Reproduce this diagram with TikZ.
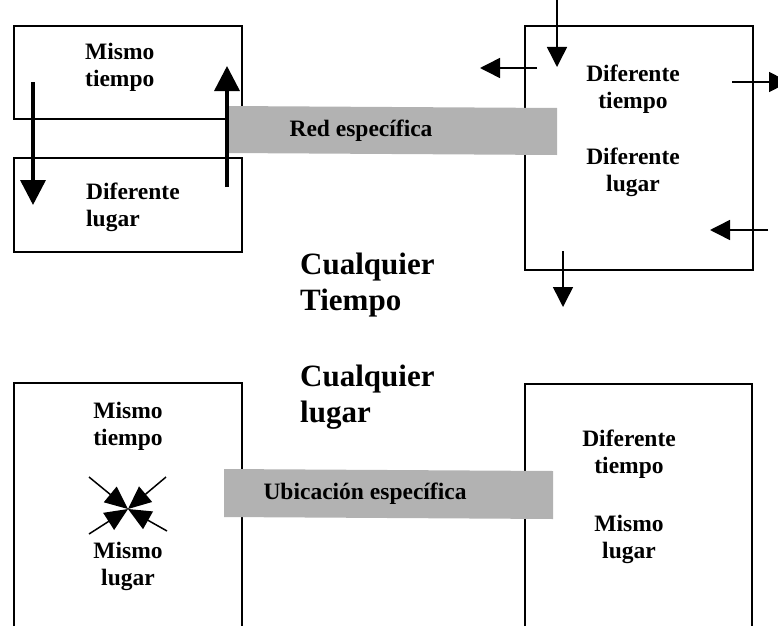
\documentclass[tikz,border=0pt]{standalone}
\usepackage{fontspec}
\setmainfont{Liberation Serif}
\usepackage[HTML]{xcolor}
\usepackage{tikz}
\usetikzlibrary{arrows.meta}
\definecolor{bargray}{HTML}{B2B2B2}

\begin{document}
\begin{tikzpicture}[x=1pt,y=-1pt,
  txt/.style={font=\fontsize{23.5}{27}\selectfont\bfseries, inner sep=0, align=center},
  bigtxt/.style={font=\fontsize{31}{36}\selectfont\bfseries, inner sep=0, align=left},
  box/.style={draw, line width=1.3pt},
  bar/.style={fill=bargray, draw=none},
  slimarrow/.style={line width=1.5pt, -{Triangle[length=20pt,width=20pt]}},
  fatarrow/.style={line width=3.5pt, -{Triangle[length=25pt,width=25pt]}},
  crossarrow/.style={line width=1.5pt, -{Triangle[length=23pt,width=20pt]}}]
\useasboundingbox (0,0) rectangle (778,626);

% Same time, different place (upper left)
\begin{scope}
\draw[box] (14,26) rectangle (242,119);
\draw[box] (14,158) rectangle (242,252);
\node[txt, anchor=north west, align=left] (mt1) at (85,43) {Mismo\\tiempo};
\node[txt, anchor=north west, align=left] (dl1) at (86,183) {Diferente\\lugar};
\end{scope}

% Different time, different place (upper right)
\begin{scope}
\draw[box] (525,26) rectangle (753,270);
\node[txt, anchor=north] (dt1) at (633,65) {Diferente\\tiempo};
\node[txt, anchor=north] (dl2) at (633,148) {Diferente\\lugar};
\end{scope}

% Network bar
\fill[bar] (227,106) -- (557,108) -- (557,155) -- (227,153) -- cycle;
\node[txt] (red) at (361,131) {Red específica};

% Centre labels
\node[bigtxt, anchor=north west] (ct) at (300,253) {Cualquier\\Tiempo};
\node[bigtxt, anchor=north west] (cl) at (300,365) {Cualquier\\lugar};

% Same time, same place (lower left)
\begin{scope}
\draw[box] (14,626) -- (14,383) -- (242,383) -- (242,626);
\node[txt, anchor=north] (mt2) at (128,402) {Mismo\\tiempo};
\node[txt, anchor=north] (ml1) at (128,542) {Mismo\\lugar};
\end{scope}

% Different time, same place (lower right)
\begin{scope}
\draw[box] (525,626) -- (525,384) -- (752,384) -- (752,626);
\node[txt, anchor=north] (dt2) at (629,430) {Diferente\\tiempo};
\node[txt, anchor=north] (ml2) at (629,515) {Mismo\\lugar};
\end{scope}

% Location bar
\fill[bar] (224,469) -- (553,471) -- (553,519) -- (224,517) -- cycle;
\node[txt] (ubi) at (365,494) {Ubicación específica};

% Arrows, upper left
\coordinate (dnA) at (33,82);  \coordinate (dnB) at (33,205);
\coordinate (upA) at (227,187); \coordinate (upB) at (227,66);
\draw[fatarrow] (dnA) -- (dnB);
\draw[fatarrow] (upA) -- (upB);

% Arrows, upper right
\coordinate (r1a) at (557,0);   \coordinate (r1b) at (557,67);
\coordinate (r2a) at (537,68);  \coordinate (r2b) at (480,68);
\coordinate (r3a) at (732,82);  \coordinate (r3b) at (789,82);
\coordinate (r4a) at (768,230); \coordinate (r4b) at (710,230);
\coordinate (r5a) at (563,251); \coordinate (r5b) at (563,307);
\foreach \s/\e in {r1a/r1b, r2a/r2b, r3a/r3b, r4a/r4b, r5a/r5b}
  \draw[slimarrow] (\s) -- (\e);

% Converging arrows, lower left
\coordinate (mid) at (128,509);
\coordinate (c1) at (89,477);  \coordinate (c2) at (166,477);
\coordinate (c3) at (89,534);  \coordinate (c4) at (167,531);
\foreach \c in {c1,c2,c3,c4}
  \draw[crossarrow] (\c) -- (mid);
\end{tikzpicture}
\end{document}
